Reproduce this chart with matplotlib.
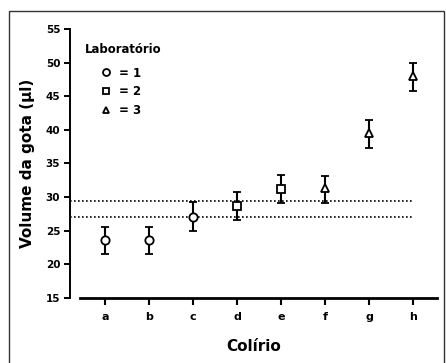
import numpy as np
import matplotlib
matplotlib.use("Agg")
import matplotlib.pyplot as plt
from matplotlib.lines import Line2D
from matplotlib.patches import Rectangle

plt.rcParams['font.family'] = ['DejaVu Sans']
plt.rcParams['font.weight'] = 'bold'

# data
colirios = ['a', 'b', 'c', 'd', 'e', 'f', 'g', 'h']
volume = [23.6, 23.6, 27.1, 28.7, 31.2, 31.3, 39.5, 48.0]
err_low = [2.1, 2.1, 2.1, 2.1, 2.1, 2.2, 2.2, 2.2]
err_high = [2.0, 2.0, 2.2, 2.1, 2.1, 1.9, 1.9, 2.0]
laboratorio = [1, 1, 1, 2, 2, 3, 3, 3]
ref_lines = [27.1, 29.4]

lab_markers = {1: 'o', 2: 's', 3: '^'}

fig = plt.figure(figsize=(4.46, 3.63), dpi=100)
ax = fig.add_axes([70/446, 65/363, 367/446, 269/363])

x = np.arange(len(colirios))
xlo = -0.795
ax.set_xlim(xlo, 7.545)
ax.set_ylim(15, 55)

# dotted reference lines
ax.hlines(ref_lines, xlo, len(colirios) - 1, colors='black',
          linestyles=(0, (1, 1.4)), linewidth=1.2, zorder=1)

for lab, mk in lab_markers.items():
    idx = [i for i, l in enumerate(laboratorio) if l == lab]
    ax.errorbar(x[idx], [volume[i] for i in idx],
                yerr=[[err_low[i] for i in idx], [err_high[i] for i in idx]],
                fmt=mk, ms=6 if mk != 's' else 5.5, mfc='white', mec='black', mew=1.3,
                ecolor='black', elinewidth=1.5, capsize=3, capthick=1.5, zorder=3)

ax.set_xticks(x)
ax.set_xticklabels(colirios)
ax.set_yticks(np.arange(15, 56, 5))

for s in ['top', 'right']:
    ax.spines[s].set_visible(False)
ax.spines['left'].set_linewidth(1.4)
ax.spines['bottom'].set_linewidth(2)
ax.spines['bottom'].set_bounds(-0.57, 7.545)

ax.tick_params(axis='y', direction='out', length=4, width=1.4, labelsize=7.5, pad=3)
ax.tick_params(axis='x', direction='out', length=5, width=1.5, labelsize=8, pad=5)

ax.set_xlabel('Colírio', fontsize=11, fontweight='bold', labelpad=12)
ax.set_ylabel('Volume da gota (µl)', fontsize=11, fontweight='bold', labelpad=8)

# legend
ax.text(0.04, 0.922, 'Laboratório', transform=ax.transAxes, fontsize=8.4,
        fontweight='bold', va='center', ha='left')
handles = [Line2D([], [], ls='none', marker=lab_markers[k], mfc='white', mec='black',
                  mew=1.3, ms=5) for k in (1, 2, 3)]
ax.legend(handles, ['= 1', '= 2', '= 3'], loc='upper left',
          bbox_to_anchor=(0.054, 0.90), frameon=False, handlelength=1,
          handletextpad=0.6, labelspacing=0.5, prop={'size': 8.5, 'weight': 'bold'})

# outer frame
fig.patches.append(Rectangle((9/446, -0.05), 435/446, 352/363 + 0.05,
                             transform=fig.transFigure, fill=False,
                             edgecolor='#333333', linewidth=1.0))

fig.savefig('out.png', dpi=100)
